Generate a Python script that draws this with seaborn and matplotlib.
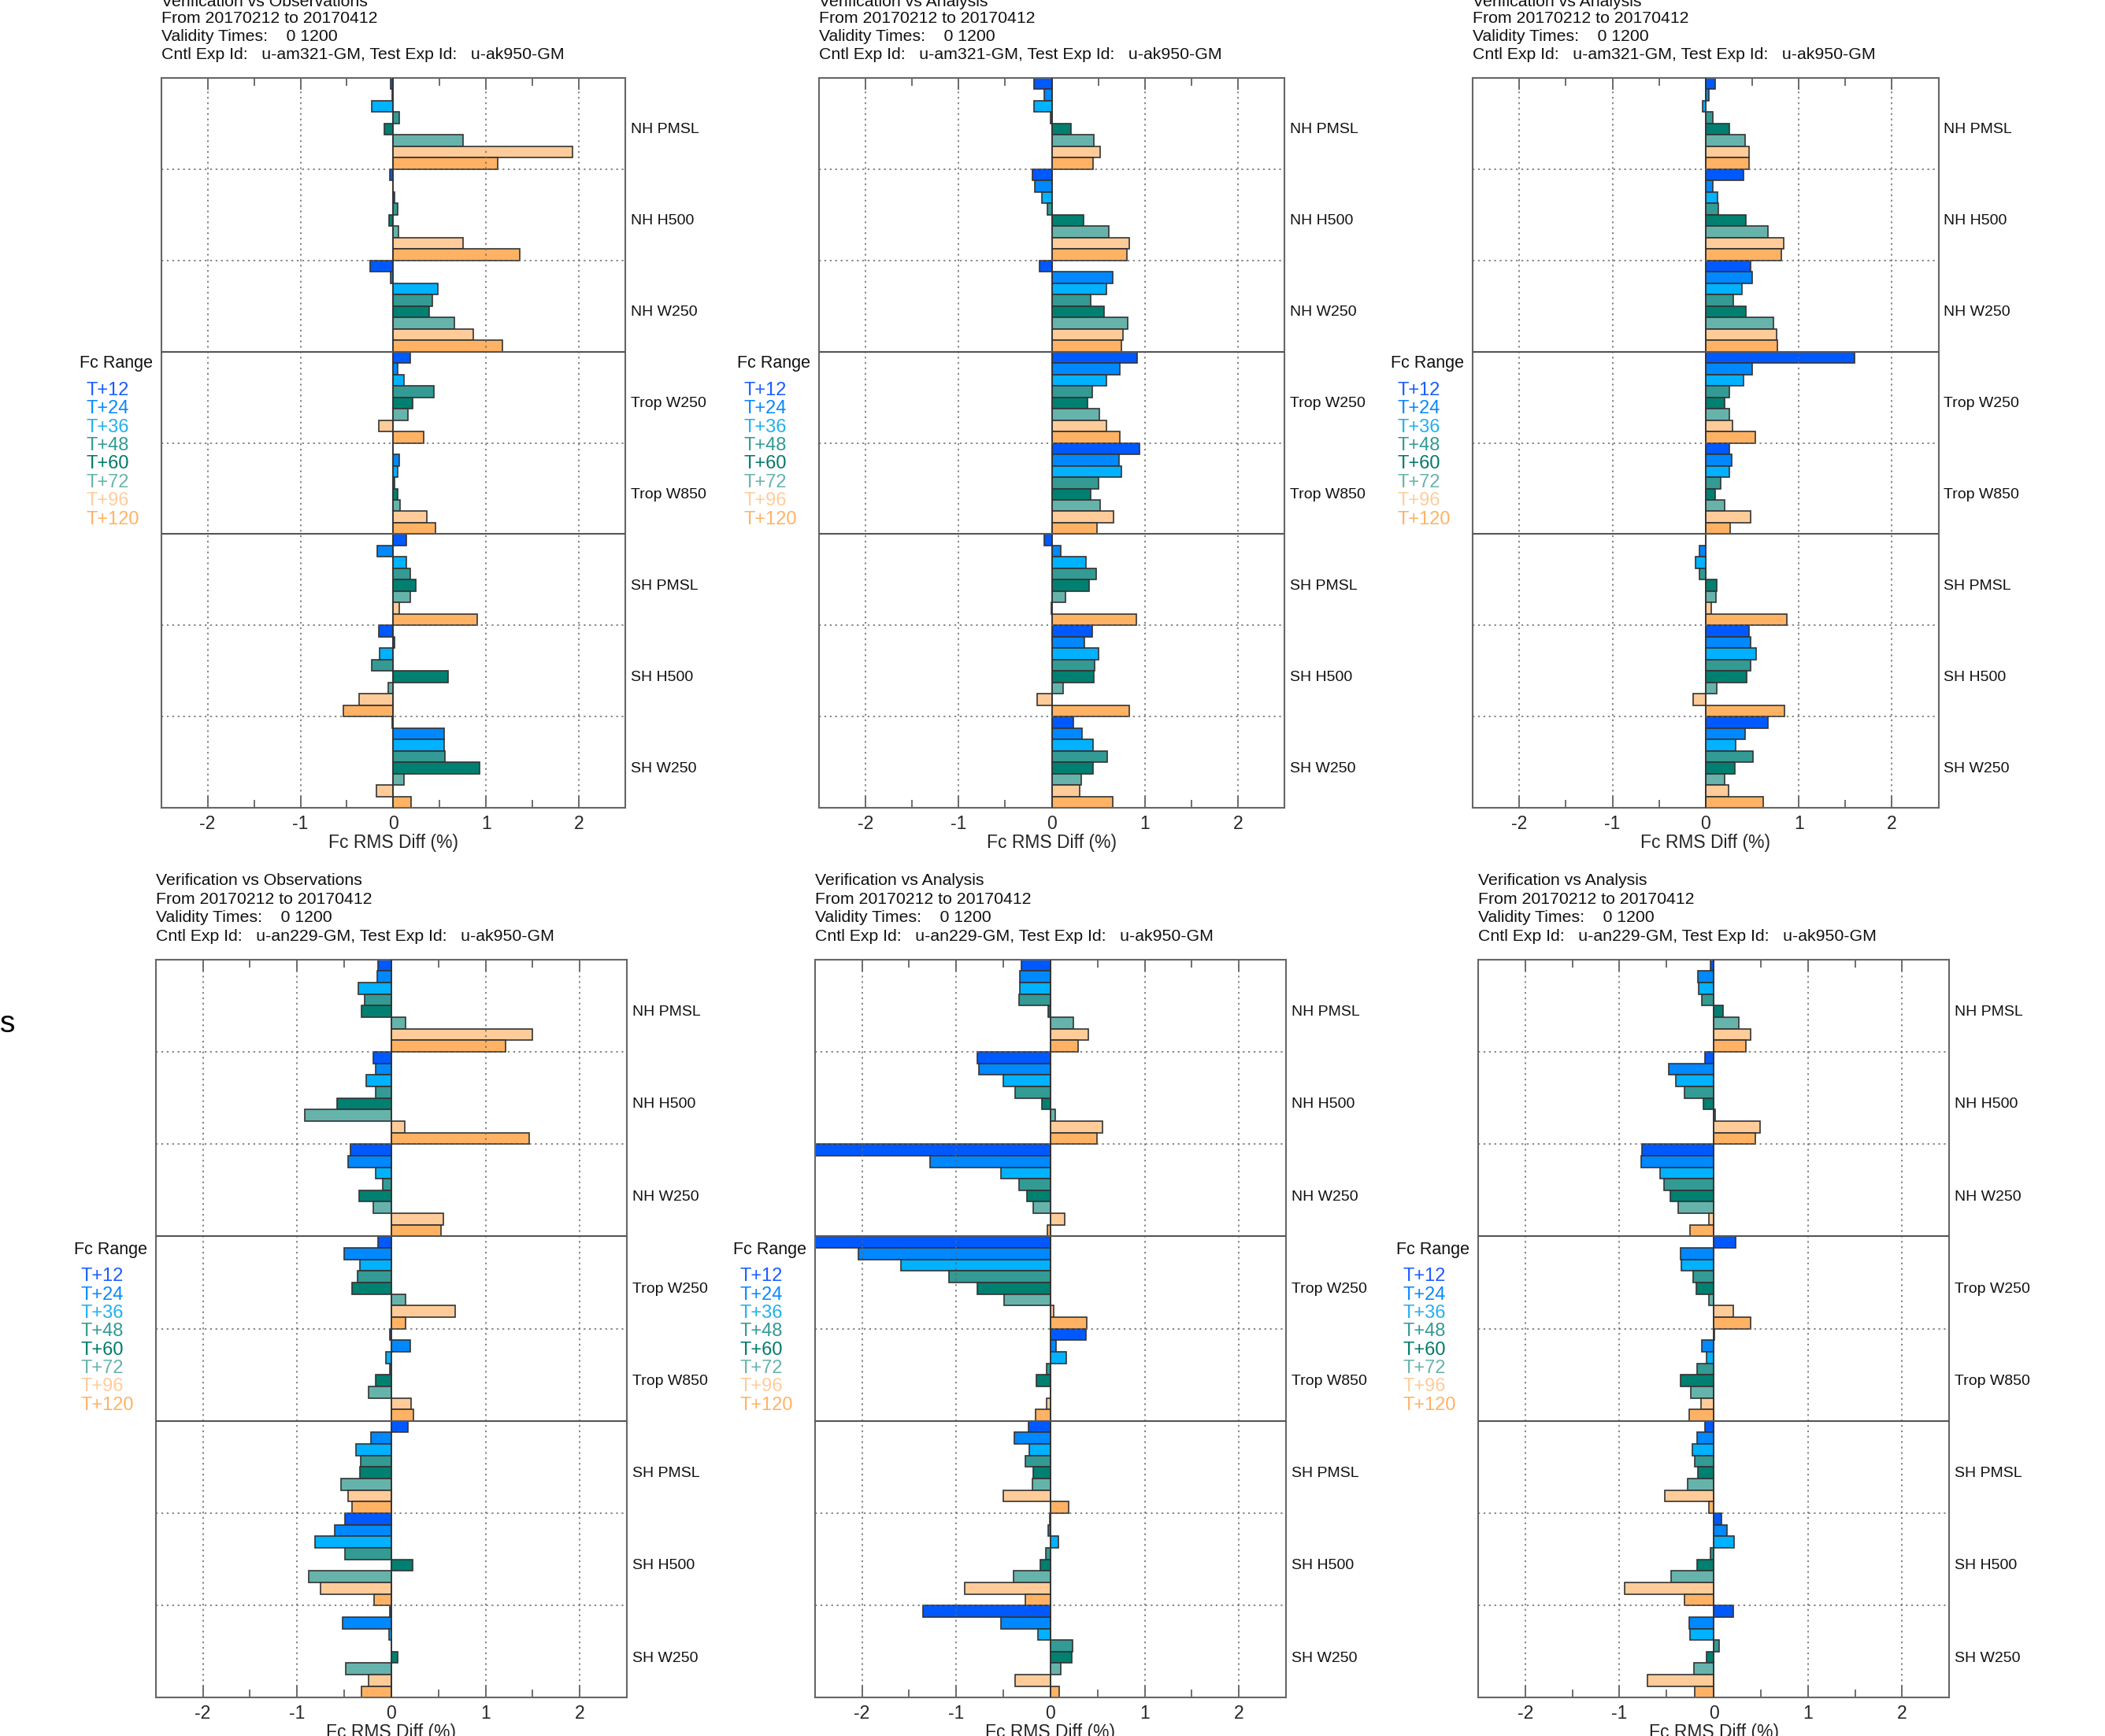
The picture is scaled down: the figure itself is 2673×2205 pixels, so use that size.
import numpy as np
import pandas as pd
import matplotlib
matplotlib.use("Agg")
import matplotlib.pyplot as plt
import matplotlib.transforms as mtransforms
import seaborn as sns

sns.set_theme(style="white")
plt.rcParams['font.family'] = ['Liberation Sans', 'DejaVu Sans']

# ---------------- data ----------------
categories = ["NH PMSL", "NH H500", "NH W250", "Trop W250", "Trop W850",
              "SH PMSL", "SH H500", "SH W250"]
fc_ranges = ["T+12", "T+24", "T+36", "T+48", "T+60", "T+72", "T+96", "T+120"]
range_colors = ["#0059ff", "#0088ff", "#00b2ff", "#339a94", "#008070",
                "#66b3ab", "#ffcc99", "#ffb264"]
legend_text_colors = ["#1a5cff", "#0a88ff", "#22b0ee", "#339a94", "#007a6a",
                      "#66b3ab", "#ffcc99", "#ffb264"]
x_ticks = [-2, -1, 0, 1, 2]

# rows = categories, columns = forecast ranges
obs_am321 = [
    [-0.03, -0.01, -0.23, 0.06, -0.10, 0.75, 1.93, 1.12],
    [-0.035, -0.005, 0.015, 0.05, -0.05, 0.055, 0.75, 1.36],
    [-0.25, -0.03, 0.48, 0.42, 0.39, 0.66, 0.86, 1.17],
    [0.18, 0.05, 0.115, 0.44, 0.21, 0.155, -0.16, 0.33],
    [0.0, 0.06, 0.05, 0.01, 0.045, 0.075, 0.36, 0.45],
    [0.14, -0.17, 0.14, 0.18, 0.24, 0.18, 0.065, 0.90],
    [-0.16, 0.015, -0.15, -0.23, 0.59, -0.055, -0.37, -0.54],
    [-0.01, 0.55, 0.545, 0.555, 0.93, 0.115, -0.18, 0.19],
]
ana_am321_a = [
    [-0.195, -0.08, -0.19, -0.01, 0.21, 0.45, 0.52, 0.44],
    [-0.21, -0.18, -0.11, -0.05, 0.345, 0.61, 0.83, 0.81],
    [-0.135, 0.65, 0.59, 0.42, 0.56, 0.815, 0.76, 0.75],
    [0.915, 0.73, 0.59, 0.43, 0.38, 0.51, 0.59, 0.73],
    [0.94, 0.72, 0.745, 0.50, 0.42, 0.52, 0.66, 0.485],
    [-0.08, 0.10, 0.37, 0.48, 0.40, 0.15, -0.005, 0.905],
    [0.43, 0.35, 0.50, 0.46, 0.455, 0.12, -0.16, 0.83],
    [0.23, 0.32, 0.44, 0.595, 0.44, 0.315, 0.30, 0.655],
]
ana_am321_b = [
    [0.10, 0.035, -0.03, 0.08, 0.255, 0.42, 0.47, 0.465],
    [0.41, 0.075, 0.13, 0.14, 0.43, 0.67, 0.835, 0.81],
    [0.48, 0.50, 0.39, 0.30, 0.43, 0.73, 0.76, 0.77],
    [1.60, 0.50, 0.41, 0.255, 0.20, 0.255, 0.29, 0.535],
    [0.255, 0.28, 0.255, 0.165, 0.10, 0.20, 0.485, 0.265],
    [0.005, -0.07, -0.11, -0.065, 0.12, 0.115, 0.06, 0.87],
    [0.47, 0.485, 0.545, 0.48, 0.445, 0.12, -0.135, 0.85],
    [0.665, 0.425, 0.325, 0.51, 0.31, 0.20, 0.245, 0.62],
]
obs_an229 = [
    [-0.145, -0.15, -0.35, -0.285, -0.32, 0.15, 1.495, 1.21],
    [-0.195, -0.17, -0.27, -0.17, -0.58, -0.915, 0.14, 1.465],
    [-0.435, -0.46, -0.165, -0.09, -0.345, -0.195, 0.55, 0.525],
    [-0.14, -0.50, -0.33, -0.355, -0.42, 0.15, 0.68, 0.15],
    [-0.02, 0.20, -0.055, -0.02, -0.17, -0.24, 0.21, 0.235],
    [0.18, -0.22, -0.375, -0.325, -0.335, -0.53, -0.455, -0.415],
    [-0.495, -0.60, -0.81, -0.49, 0.23, -0.875, -0.755, -0.185],
    [-0.02, -0.515, -0.025, 0.0, 0.07, -0.485, -0.24, -0.315],
]
ana_an229_a = [
    [-0.305, -0.325, -0.325, -0.33, -0.025, 0.24, 0.40, 0.29],
    [-0.775, -0.76, -0.505, -0.375, -0.09, 0.05, 0.55, 0.49],
    [-2.6, -1.275, -0.53, -0.33, -0.25, -0.18, 0.155, -0.03],
    [-2.6, -2.04, -1.59, -1.08, -0.78, -0.49, 0.035, 0.385],
    [0.38, 0.055, 0.17, -0.045, -0.15, 0.0, -0.04, -0.16],
    [-0.235, -0.385, -0.225, -0.27, -0.18, -0.19, -0.50, 0.19],
    [-0.01, -0.025, 0.08, -0.05, -0.11, -0.395, -0.91, -0.265],
    [-1.35, -0.53, -0.135, 0.235, 0.225, 0.11, -0.375, 0.095],
]
ana_an229_b = [
    [-0.035, -0.165, -0.16, -0.125, 0.10, 0.27, 0.395, 0.345],
    [-0.09, -0.48, -0.40, -0.31, -0.11, 0.015, 0.49, 0.44],
    [-0.76, -0.77, -0.565, -0.525, -0.46, -0.375, -0.05, -0.25],
    [0.235, -0.35, -0.34, -0.215, -0.185, -0.05, 0.21, 0.395],
    [0.01, -0.125, -0.08, -0.18, -0.35, -0.24, -0.135, -0.26],
    [-0.095, -0.175, -0.225, -0.205, -0.17, -0.275, -0.52, -0.05],
    [0.08, 0.14, 0.215, -0.035, -0.175, -0.455, -0.945, -0.31],
    [0.21, -0.26, -0.25, 0.06, -0.075, -0.21, -0.70, -0.205],
]

titles_top = ["Verification vs Observations", "Verification vs Analysis", "Verification vs Analysis"]
titles_bottom = ["Verification vs Observations", "Verification vs Analysis", "Verification vs Analysis"]
date_line = "From 20170212 to 20170412"
validity_line = "Validity Times:    0 1200"
cntl_top = "Cntl Exp Id:   u-am321-GM, Test Exp Id:   u-ak950-GM"
cntl_bottom = "Cntl Exp Id:   u-an229-GM, Test Exp Id:   u-ak950-GM"
xlabel = "Fc RMS Diff (%)"

# ---------------- layout (in reduced reference pixels) ----------------
W, H = 1568.0, 1293.5
fig = plt.figure(figsize=(26.73, 22.05), dpi=100)


def frac_rect(l, t, r, b):
    return [l / W, 1 - b / H, (r - l) / W, (b - t) / H]


panels = [
    (obs_am321, (120, 58, 466, 602), titles_top[0], cntl_top, [1.5, 14, 27.5, 41], 271),
    (ana_am321_a, (610, 58, 957, 602), titles_top[1], cntl_top, [1.5, 14, 27.5, 41], 271),
    (ana_am321_b, (1097, 58, 1444, 602), titles_top[2], cntl_top, [1.5, 14, 27.5, 41], 271),
    (obs_an229, (116, 715, 467, 1265), titles_bottom[0], cntl_bottom, [656, 670, 684, 698], 931),
    (ana_an229_a, (607, 715, 958, 1265), titles_bottom[1], cntl_bottom, [656, 670, 684, 698], 931),
    (ana_an229_b, (1101, 715, 1452, 1265), titles_bottom[2], cntl_bottom, [656, 670, 684, 698], 931),
]

for values, (l, t, r, b), title, cntl, hdr_y, leg_y in panels:
    rows = []
    for ci, cat in enumerate(categories):
        for ri, rng in enumerate(fc_ranges):
            rows.append({"category": cat, "range": rng, "value": values[ci][ri]})
    df = pd.DataFrame(rows)

    ax = fig.add_axes(frac_rect(l, t, r, b))
    sns.barplot(data=df, x="value", y="category", hue="range",
                order=categories, hue_order=fc_ranges, palette=range_colors,
                orient="h", width=1.0, gap=0, saturation=1, errorbar=None,
                edgecolor="#333333", linewidth=1.2, legend=False, ax=ax, zorder=2)

    ax.set_xlim(-2.5, 2.5)
    ax.set_ylim(len(categories) - 0.5, -0.5)
    ax.set_xticks(x_ticks)
    ax.set_xticklabels([str(v) for v in x_ticks], fontsize=16.5)
    ax.set_xticks([-1.5, -0.5, 0.5, 1.5], minor=True)
    ax.tick_params(axis="x", which="major", direction="in", length=11, width=1.2,
                   color="#555555", top=True, bottom=True, pad=6)
    ax.tick_params(axis="x", which="minor", direction="in", length=7, width=1.2,
                   color="#555555", top=True, bottom=True)
    ax.set_yticks([])
    ax.set_ylabel("")
    ax.set_xlabel(xlabel, fontsize=16.5, labelpad=1)

    # grid lines
    for xv in [-2, -1, 1, 2]:
        ax.axvline(xv, color="#666666", lw=1.1, ls=(0, (1.5, 3)), zorder=3)
    ax.axvline(0, color="#333333", lw=1.2, zorder=3)
    for yv in [0.5, 1.5, 3.5, 5.5, 6.5]:
        ax.axhline(yv, color="#666666", lw=1.1, ls=(0, (1.5, 3)), zorder=3)
    for yv in [2.5, 4.5]:
        ax.axhline(yv, color="#555555", lw=1.5, zorder=3)

    for sp in ax.spines.values():
        sp.set_color("#666666")
        sp.set_linewidth(1.5)

    # category labels on the right
    trans = mtransforms.blended_transform_factory(ax.transAxes, ax.transData)
    for ci, cat in enumerate(categories):
        ax.text(1 + 4.0 / (r - l), ci + 0.07, cat, transform=trans,
                ha="left", va="center", fontsize=14, color="#111111")

    # header lines
    for yy, txt in zip(hdr_y, [title, date_line, validity_line, cntl]):
        fig.text(l / W, 1 - yy / H, txt, ha="left", va="center", fontsize=15.3,
                 color="#111111")

    # Fc Range legend
    fig.text((l - 61) / W, 1 - leg_y / H, "Fc Range", ha="left", va="center",
             fontsize=15.5, color="#111111")
    for k, (rng, col) in enumerate(zip(fc_ranges, legend_text_colors)):
        fig.text((l - 56) / W, 1 - (leg_y + 20 + 13.7 * k) / H, rng,
                 ha="left", va="center", fontsize=17, color=col)

# stray fragment of neighbouring figure at the left edge
fig.text(0.0, 1 - 763 / H, "s", ha="left", va="center", fontsize=28, color="black")

fig.savefig("out.png", dpi=100)
